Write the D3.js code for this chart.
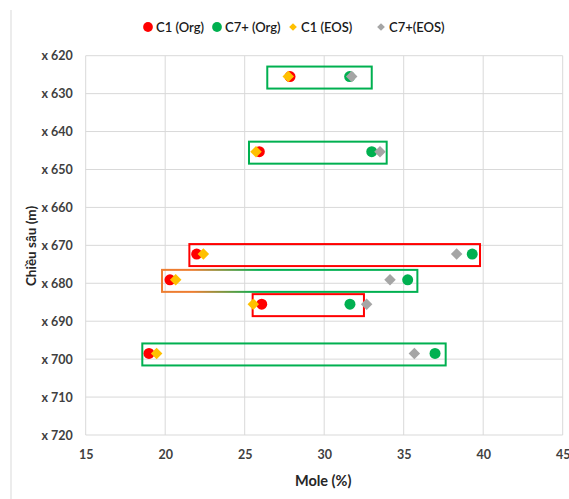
<!DOCTYPE html>
<html>
<head>
<meta charset="utf-8">
<script src="https://cdn.jsdelivr.net/npm/d3@7"></script>
<style>
  html, body { margin: 0; padding: 0; background: #fff; }
  svg { display: block; font-family: Lato, "Open Sans", sans-serif; }
</style>
</head>
<body>
<svg id="chart" width="569" height="499"></svg>
<script>
// Depth of each sampled interval (m)
const depths = [625.5, 645.3, 672.3, 679.1, 685.5, 698.5];
// Mole fractions (%)
const c1Org   = [27.85, 25.92, 21.98, 20.30, 26.07, 18.98];
const c7Org   = [31.60, 32.99, 39.31, 35.25, 31.62, 36.97];
const c1Eos   = [27.74, 25.71, 22.40, 20.66, 25.54, 19.46];
const c7Eos   = [31.73, 33.51, 38.33, 34.14, 32.67, 35.67];
// Highlight frames around each interval (mole % range) and their outline style
const frameLow  = [26.42, 25.27, 21.52, 19.80, 25.50, 18.56];
const frameHigh = [32.99, 33.93, 39.80, 35.86, 32.50, 37.64];
const frameKind = ["green", "green", "red", "mixed", "red", "green"];

const yTicks = [620, 630, 640, 650, 660, 670, 680, 690, 700, 710, 720];
const yTickLabels = yTicks.map(d => "x " + d);
const xTicks = [15, 20, 25, 30, 35, 40, 45];

const series = [
  { name: "C1 (Org)",  values: c1Org, color: "#FF0000", shape: "circle" },
  { name: "C7+ (Org)", values: c7Org, color: "#00B050", shape: "circle" },
  { name: "C1 (EOS)",  values: c1Eos, color: "#FFC000", shape: "diamond" },
  { name: "C7+(EOS)",  values: c7Eos, color: "#A5A5A5", shape: "diamond" }
];

const svg = d3.select("#chart");
const plotL = 85.7, plotR = 562.7, plotT = 55.7, plotB = 435;

const x = d3.scaleLinear().domain([15, 45]).range([plotL, plotR]);
const y = d3.scaleLinear().domain([620, 720]).range([plotT, plotB]);

// outer frame line on the left
svg.append("line").attr("x1", 11).attr("x2", 11).attr("y1", 10).attr("y2", 499)
  .attr("stroke", "#d9d9d9").attr("stroke-width", 1);

// gridlines
const grid = svg.append("g").attr("stroke", "#d9d9d9").attr("stroke-width", 1);
grid.selectAll(".gx").data(xTicks).join("line")
  .attr("x1", d => x(d)).attr("x2", d => x(d))
  .attr("y1", plotT).attr("y2", plotB);
grid.selectAll(".gy").data(yTicks).join("line")
  .attr("x1", plotL).attr("x2", plotR)
  .attr("y1", d => y(d)).attr("y2", d => y(d));

// axes (labels only)
const yAxis = svg.append("g").attr("transform", `translate(${plotL},0)`)
  .call(d3.axisLeft(y).tickValues(yTicks).tickFormat((d, i) => yTickLabels[i]).tickSize(0).tickPadding(13));
yAxis.select(".domain").remove();
yAxis.selectAll("text").attr("font-size", 12.5).attr("font-weight", 700).attr("fill", "#404040")
  .attr("font-family", "Lato, 'Open Sans', sans-serif");

const xAxis = svg.append("g").attr("transform", `translate(0,${plotB})`)
  .call(d3.axisBottom(x).tickValues(xTicks).tickFormat(d3.format("d")).tickSize(0).tickPadding(15));
xAxis.select(".domain").remove();
xAxis.selectAll("text").attr("font-size", 12.5).attr("font-weight", 700).attr("fill", "#404040")
  .attr("font-family", "Lato, 'Open Sans', sans-serif");

// axis titles
svg.append("text").attr("x", plotL + (plotR - plotL) / 2 - 1).attr("y", 486)
  .attr("text-anchor", "middle").attr("font-size", 14.5).attr("font-weight", 700).attr("fill", "#262626")
  .text("Mole (%)");
svg.append("text").attr("transform", "translate(36,246) rotate(-90)")
  .attr("text-anchor", "middle").attr("font-size", 13.5).attr("font-weight", 700).attr("fill", "#262626")
  .text("Chiều sâu (m)");

// gradient for the mixed outline
const defs = svg.append("defs");
const grad = defs.append("linearGradient").attr("id", "mixedStroke")
  .attr("x1", "0%").attr("x2", "100%").attr("y1", "0%").attr("y2", "0%");
grad.append("stop").attr("offset", "0%").attr("stop-color", "#ED7D31");
grad.append("stop").attr("offset", "12%").attr("stop-color", "#ED7D31");
grad.append("stop").attr("offset", "38%").attr("stop-color", "#00B050");
grad.append("stop").attr("offset", "100%").attr("stop-color", "#00B050");

const frameColor = { green: "#00B050", red: "#FF0000", mixed: "url(#mixedStroke)" };
const framePad = 2.9; // half height of a frame, in metres

svg.append("g").selectAll("rect").data(depths).join("rect")
  .attr("x", (d, i) => x(frameLow[i]))
  .attr("width", (d, i) => x(frameHigh[i]) - x(frameLow[i]))
  .attr("y", d => y(d - framePad) + 1)
  .attr("height", d => y(d + framePad) - y(d - framePad))
  .attr("fill", "none")
  .attr("stroke", (d, i) => frameColor[frameKind[i]])
  .attr("stroke-width", 2);

// markers
const circleSym = d3.symbol().type(d3.symbolCircle).size(95);
const diamondSym = d3.symbol().type(d3.symbolSquare).size(66);

series.forEach(s => {
  svg.append("g").selectAll("path").data(depths).join("path")
    .attr("d", s.shape === "circle" ? circleSym : diamondSym)
    .attr("transform", (d, i) => `translate(${x(s.values[i])},${y(d)})` + (s.shape === "diamond" ? " rotate(45)" : ""))
    .attr("fill", s.color);
});

// legend
const legendX = [148, 217, 293, 381];
const legend = svg.append("g");
series.forEach((s, i) => {
  const g = legend.append("g").attr("transform", `translate(${legendX[i]},27)`);
  if (s.shape === "circle") {
    g.append("path").attr("d", d3.symbol().type(d3.symbolCircle).size(75)).attr("fill", s.color);
  } else {
    g.append("path").attr("d", d3.symbol().type(d3.symbolSquare).size(30))
      .attr("transform", "rotate(45)").attr("fill", s.color);
  }
  g.append("text").attr("x", 8).attr("y", 4.5).attr("font-size", 13).attr("font-weight", 600)
    .attr("fill", "#1a1a1a").text(s.name);
});
</script>
</body>
</html>
